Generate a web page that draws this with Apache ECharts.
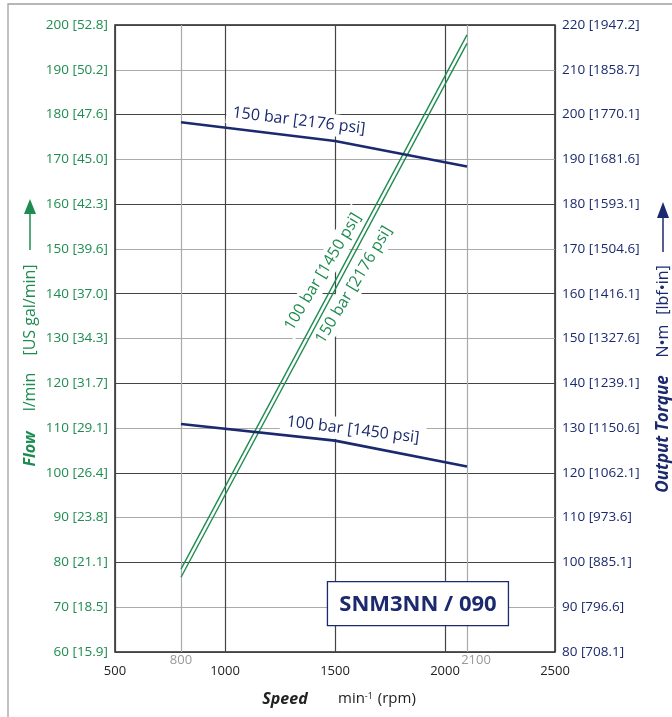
<!DOCTYPE html>
<html><head><meta charset="utf-8">
<script src="https://cdn.jsdelivr.net/npm/echarts@6/dist/echarts.min.js"></script>
<style>html,body{margin:0;padding:0;background:#fff}#c{width:672px;height:717px}</style>
</head><body><div id="c"></div>
<script>
// ---- data ----
const speedTickValues = [500, 1000, 1500, 2000, 2500];
const speedMarkValues = [800, 2100];
const flowTickValues = [60, 70, 80, 90, 100, 110, 120, 130, 140, 150, 160, 170, 180, 190, 200];
const flowTickLabels = ['60 [15.9]', '70 [18.5]', '80 [21.1]', '90 [23.8]', '100 [26.4]', '110 [29.1]', '120 [31.7]', '130 [34.3]', '140 [37.0]', '150 [39.6]', '160 [42.3]', '170 [45.0]', '180 [47.6]', '190 [50.2]', '200 [52.8]'];
const torqueTickValues = [80, 90, 100, 110, 120, 130, 140, 150, 160, 170, 180, 190, 200, 210, 220];
const torqueTickLabels = ['80 [708.1]', '90 [796.6]', '100 [885.1]', '110 [973.6]', '120 [1062.1]', '130 [1150.6]', '140 [1239.1]', '150 [1327.6]', '160 [1416.1]', '170 [1504.6]', '180 [1593.1]', '190 [1681.6]', '200 [1770.1]', '210 [1858.7]', '220 [1947.2]'];

const flowSpeed = [800, 2100];
const flow100bar = [78.5, 197.8];
const flow150bar = [76.7, 195.9];

const torqueSpeed = [800, 1500, 2100];
const torque150bar = [198.3, 194.1, 188.4];
const torque100bar = [130.9, 127.2, 121.4];

const seriesNames = ['100 bar [1450 psi]', '150 bar [2176 psi]'];
const modelName = 'SNM3NN / 090';

// ---- styles ----
const GREEN = '#1e8c50';
const NAVY = '#1b2a6e';
const FONT = '"Open Sans", "Noto Sans", sans-serif';

const chart = echarts.init(document.getElementById('c'), null, {renderer: 'canvas'});
const zip = (xs, ys) => xs.map((x, i) => [x, ys[i]]);

chart.setOption({
  animation: false,
  backgroundColor: '#fff',
  grid: {left: 115, right: 117, top: 25, bottom: 65, show: true, borderColor: '#222', borderWidth: 1.5, containLabel: false, outerBoundsMode: 'none'},
  xAxis: {
    type: 'value', min: speedTickValues[0], max: speedTickValues[speedTickValues.length - 1], interval: 500,
    axisLine: {show: false}, axisTick: {show: false},
    axisLabel: {color: '#222', fontSize: 13, fontFamily: FONT, margin: 13, formatter: v => String(v)},
    splitLine: {show: true, lineStyle: {color: '#444', width: 1.2}}
  },
  yAxis: [{
    type: 'value', position: 'left', min: flowTickValues[0], max: flowTickValues[flowTickValues.length - 1], interval: 10,
    axisLine: {show: false}, axisTick: {show: false},
    axisLabel: {color: GREEN, fontSize: 13.5, fontFamily: FONT, margin: 7,
      formatter: v => flowTickLabels[flowTickValues.indexOf(v)] || ''},
    splitLine: {show: true, lineStyle: {color: ['#444', '#aaa'], width: 1.2}}
  }, {
    type: 'value', position: 'right', min: torqueTickValues[0], max: torqueTickValues[torqueTickValues.length - 1], interval: 10,
    axisLine: {show: false}, axisTick: {show: false},
    axisLabel: {color: NAVY, fontSize: 13.5, fontFamily: FONT, margin: 7,
      formatter: v => torqueTickLabels[torqueTickValues.indexOf(v)] || ''},
    splitLine: {show: false}
  }],
  series: [{
    name: 'flow ' + seriesNames[0], type: 'line', yAxisIndex: 0, symbol: 'none', z: 3,
    lineStyle: {color: GREEN, width: 1.4}, data: zip(flowSpeed, flow100bar),
    markLine: {
      silent: true, symbol: 'none', z: 1,
      lineStyle: {color: '#aaa', width: 1.2, type: 'solid'},
      label: {position: 'start', color: '#999', fontSize: 13, fontFamily: FONT, distance: 2, formatter: p => String(p.value)},
      data: speedMarkValues.map((v, i) => (i === speedMarkValues.length - 1
        ? {xAxis: v, label: {padding: [0, 0, 0, 18]}} : {xAxis: v}))
    }
  }, {
    name: 'flow ' + seriesNames[1], type: 'line', yAxisIndex: 0, symbol: 'none', z: 3,
    lineStyle: {color: GREEN, width: 1.4}, data: zip(flowSpeed, flow150bar)
  }, {
    name: 'torque ' + seriesNames[1], type: 'line', yAxisIndex: 1, symbol: 'none', z: 3,
    lineStyle: {color: NAVY, width: 2.6}, data: zip(torqueSpeed, torque150bar)
  }, {
    name: 'torque ' + seriesNames[0], type: 'line', yAxisIndex: 1, symbol: 'none', z: 3,
    lineStyle: {color: NAVY, width: 2.6}, data: zip(torqueSpeed, torque100bar)
  }]
});

// ---- annotations (positions in data coordinates of left axis) ----
const px = (x, y) => chart.convertToPixel({xAxisIndex: 0, yAxisIndex: 0}, [x, y]);
const deg = d => d * Math.PI / 180;
const curveLabels = [
  {text: seriesNames[1], at: [1336, 178.6], rot: -7, color: NAVY},
  {text: seriesNames[0], at: [1582, 109.6], rot: -7, color: NAVY},
  {text: seriesNames[0], at: [1445, 144.9], rot: 59, color: GREEN},
  {text: seriesNames[1], at: [1586, 142.0], rot: 59, color: GREEN}
];
const g = [];
curveLabels.forEach(l => {
  const p = px(l.at[0], l.at[1]);
  g.push({type: 'text', x: p[0], y: p[1], rotation: deg(l.rot), z: 1, silent: true,
    style: {text: l.text, fill: l.color, fontSize: 16, fontFamily: FONT, align: 'center', verticalAlign: 'middle',
      backgroundColor: '#fff', padding: [3, 6]}});
});
const bc = px(1877, 70.8);
g.push({type: 'rect', z: 20, silent: true, shape: {x: bc[0] - 90.5, y: bc[1] - 22, width: 181, height: 44},
  style: {fill: '#fff', stroke: NAVY, lineWidth: 1.3}});
g.push({type: 'text', z: 21, silent: true, x: bc[0], y: bc[1] + 1,
  style: {text: modelName, fill: NAVY, fontSize: 22, fontWeight: 'bold', fontFamily: FONT, align: 'center', verticalAlign: 'middle'}});

// outer frame
g.push({type: 'rect', z: 0, silent: true, shape: {x: 8, y: 4, width: 700, height: 730},
  style: {fill: 'none', stroke: '#a0a0a0', lineWidth: 1.3}});

// axis titles
function vtext(x, y, text, color, bold, size) {
  g.push({type: 'text', x: x, y: y, rotation: deg(90), z: 5, silent: true,
    style: {text: text, fill: color, fontSize: size || 16, fontFamily: FONT, fontWeight: bold ? 'bold' : 'normal',
      fontStyle: bold ? 'italic' : 'normal', align: 'center', verticalAlign: 'middle'}});
}
vtext(30, 449, 'Flow', GREEN, true);
vtext(30, 392, 'l/min', GREEN, false);
vtext(30, 310, '[US gal/min]', GREEN, false);
vtext(663, 434, 'Output Torque', NAVY, true, 17);
vtext(663, 341, 'N•m', NAVY, false);
vtext(663, 290, '[lbf•in]', NAVY, false);

function arrow(x, yTip, yBase, yEnd, color) {
  g.push({type: 'line', z: 5, silent: true, shape: {x1: x, y1: yBase, x2: x, y2: yEnd}, style: {stroke: color, lineWidth: 1.5}});
  g.push({type: 'polygon', z: 5, silent: true, shape: {points: [[x, yTip], [x - 6, yBase], [x + 6, yBase]]}, style: {fill: color}});
}
arrow(30, 199, 214, 250, GREEN);
arrow(663, 202, 218, 252, NAVY);

// x axis title
g.push({type: 'text', x: 285, y: 699, z: 5, silent: true,
  style: {text: 'Speed', fill: '#222', fontSize: 16, fontWeight: 'bold', fontStyle: 'italic', fontFamily: FONT, align: 'center', verticalAlign: 'middle'}});
g.push({type: 'text', x: 338, y: 699, z: 5, silent: true,
  style: {text: '{a|min}{s|-1}{a| (rpm)}', align: 'left', verticalAlign: 'middle',
    rich: {a: {fill: '#222', fontSize: 15, fontFamily: FONT, verticalAlign: 'bottom'},
           s: {fill: '#222', fontSize: 9, fontFamily: FONT, verticalAlign: 'top', padding: [0, 1, 6, 0]}}}});

chart.setOption({graphic: g});
</script>
</body></html>
